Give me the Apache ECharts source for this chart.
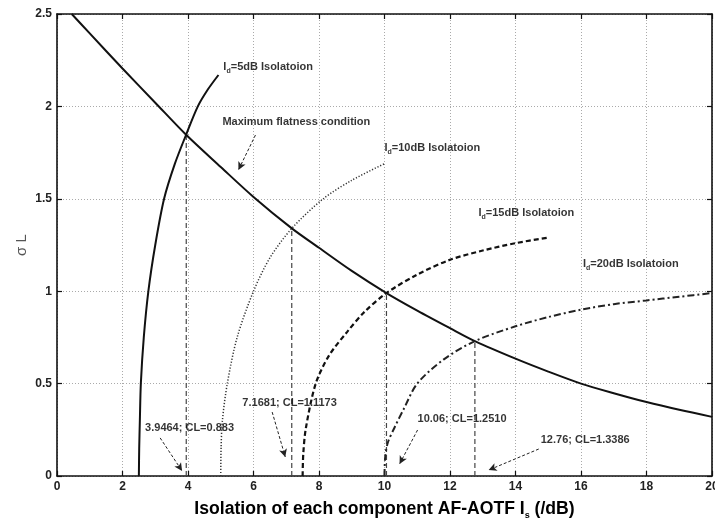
<!DOCTYPE html>
<html>
<head>
<meta charset="utf-8">
<script src="https://cdn.jsdelivr.net/npm/echarts@6/dist/echarts.min.js"></script>
<style>
  html, body { margin: 0; padding: 0; background: #fff; overflow: hidden; }
  #chart { width: 715px; height: 521px; }
</style>
</head>
<body>
<div id="chart"></div>
<script>
// ---- data ----
const xTickLabels = ['0','2','4','6','8','10','12','14','16','18','20'];
const yTickLabels = ['0','0.5','1','1.5','2','2.5'];

const maxFlatX = [0.45, 1, 2, 3, 3.95, 5, 6, 7.17, 8, 9, 10.06, 11, 12, 12.76, 14, 15, 16, 17, 18, 19, 20];
const maxFlatY = [2.5, 2.395, 2.205, 2.02, 1.845, 1.672, 1.51, 1.34, 1.235, 1.11, 0.99, 0.895, 0.8, 0.73, 0.635, 0.565, 0.5, 0.448, 0.4, 0.358, 0.32];

const iso5X = [2.5, 2.51, 2.53, 2.56, 2.65, 2.79, 3.0, 3.27, 3.6, 3.95, 4.3, 4.6, 4.93];
const iso5Y = [0, 0.15, 0.3, 0.5, 0.75, 1.0, 1.25, 1.5, 1.69, 1.85, 2.0, 2.09, 2.17];

const iso10X = [5.0, 5.01, 5.05, 5.2, 5.5, 6.0, 6.5, 7.17, 8.13, 9.0, 10.0];
const iso10Y = [0, 0.15, 0.3, 0.5, 0.75, 1.0, 1.18, 1.34, 1.5, 1.6, 1.69];

const iso15X = [7.5, 7.52, 7.6, 7.9, 8.3, 8.86, 9.4, 10.06, 11, 12, 13, 14, 15];
const iso15Y = [0, 0.12, 0.26, 0.5, 0.65, 0.78, 0.89, 0.99, 1.09, 1.17, 1.22, 1.26, 1.29];

const iso20X = [10, 10.02, 10.1, 10.3, 10.58, 11.0, 11.8, 12.76, 14, 15, 16, 17, 18, 19, 20];
const iso20Y = [0, 0.1, 0.18, 0.26, 0.36, 0.5, 0.63, 0.73, 0.81, 0.86, 0.9, 0.93, 0.95, 0.97, 0.99];

// intersection markers (vertical dashed drop lines)
const crossX = [3.9464, 7.1681, 10.06, 12.76];
const crossY = [1.845, 1.34, 0.99, 0.73];

// text annotations (anchor in data units: left edge, vertical middle)
const noteText = [
  'I{s|d}=5dB Isolatoion',
  'Maximum flatness condition',
  'I{s|d}=10dB Isolatoion',
  'I{s|d}=15dB Isolatoion',
  'I{s|d}=20dB Isolatoion',
  '3.9464; CL=0.883',
  '7.1681; CL=1.1173',
  '10.06; CL=1.2510',
  '12.76; CL=1.3386'
];
const noteX = [5.08, 5.05, 10.0, 12.87, 16.06, 2.69, 5.66, 11.01, 14.77];
const noteY = [2.213, 1.916, 1.775, 1.423, 1.147, 0.26, 0.395, 0.308, 0.195];

// arrows: from -> to
const arrowFromX = [6.06, 3.15, 6.57, 11.01, 14.71];
const arrowFromY = [1.845, 0.206, 0.346, 0.249, 0.146];
const arrowToX = [5.54, 3.82, 6.97, 10.46, 13.18];
const arrowToY = [1.656, 0.027, 0.103, 0.065, 0.032];

// ---- build ----
const zip = (xs, ys) => xs.map((x, i) => [x, ys[i]]);
const FONT = "'Liberation Sans', Arial, sans-serif";

const chart = echarts.init(document.getElementById('chart'), null, { renderer: 'canvas' });

function curve(name, xs, ys, type, width, color) {
  return {
    name, type: 'line', xAxisIndex: 0, yAxisIndex: 0,
    data: zip(xs, ys), showSymbol: false, symbol: 'none',
    smooth: 0.3,
    lineStyle: { color, width, type }, z: 5, silent: true
  };
}

const series = [
  curve('Maximum flatness', maxFlatX, maxFlatY, 'solid', 2, '#111'),
  curve('Id=5dB', iso5X, iso5Y, 'solid', 2, '#111'),
  curve('Id=10dB', iso10X, iso10Y, [1.2, 1.8], 1.5, '#333'),
  curve('Id=15dB', iso15X, iso15Y, [5, 3], 2.2, '#111'),
  curve('Id=20dB', iso20X, iso20Y, [7, 3, 2, 3], 2, '#222')
];

crossX.forEach((x, i) => {
  series.push({
    type: 'line', silent: true, data: [[x, 0], [x, crossY[i]]],
    showSymbol: false, symbol: 'none',
    lineStyle: { color: '#444', width: 1.2, type: [5, 3] }, z: 4
  });
});

series.push({
  type: 'scatter', silent: true, symbolSize: 0, z: 10,
  data: noteX.map((x, i) => ({ value: [x, noteY[i]], name: noteText[i] })),
  label: {
    show: true, position: 'right', distance: 0,
    formatter: p => p.name,
    fontFamily: FONT, fontSize: 11, fontWeight: 'bold', color: '#000', lineHeight: 15,
    rich: {
      s: { fontFamily: FONT, fontSize: 7, fontWeight: 'bold', color: '#000', verticalAlign: 'bottom', lineHeight: 6 }
    }
  }
});

series.push({
  type: 'line', silent: true, data: [], z: 9,
  markLine: {
    silent: true, animation: false,
    symbol: ['none', 'arrow'], symbolSize: [6, 8],
    label: { show: false },
    lineStyle: { color: '#222', width: 1, type: [3, 2] },
    data: arrowFromX.map((x, i) => [
      { coord: [x, arrowFromY[i]] },
      { coord: [arrowToX[i], arrowToY[i]] }
    ])
  }
});

const tick = { show: true, inside: true, length: 5, lineStyle: { color: '#111', width: 1.2 } };
const frame = { show: true, onZero: false, lineStyle: { color: '#111', width: 1.6 } };

const option = {
  animation: false,
  backgroundColor: '#fff',
  grid: { left: 57, right: 3, top: 14, bottom: 45, show: false, containLabel: false, outerBoundsMode: 'none' },
  xAxis: [
    {
      type: 'value', min: 0, max: 20, interval: 2, position: 'bottom',
      name: 'Isolation of each component AF-AOTF I{s|s} (/dB)',
      nameLocation: 'middle', nameGap: 21,
      nameTextStyle: {
        fontFamily: FONT, fontSize: 17.6, fontWeight: 'bold', color: '#000', lineHeight: 22,
        rich: { s: { fontFamily: FONT, fontSize: 9, fontWeight: 'bold', color: '#000', verticalAlign: 'bottom', lineHeight: 7 } }
      },
      axisLine: frame, axisTick: tick,
      axisLabel: {
        formatter: (v) => xTickLabels[Math.round(v / 2)] ?? '',
        fontFamily: FONT, fontSize: 12, fontWeight: 'bold', color: '#222', margin: 5
      },
      splitLine: { show: true, lineStyle: { color: '#aaa', width: 1, type: [1, 2] } }
    },
    {
      type: 'value', min: 0, max: 20, interval: 2, position: 'top',
      axisLine: frame, axisTick: tick,
      axisLabel: { show: false }, splitLine: { show: false }
    }
  ],
  yAxis: [
    {
      type: 'value', min: 0, max: 2.5, interval: 0.5, position: 'left',
      name: 'σ L', nameLocation: 'middle', nameGap: 28, nameRotate: 90, nameMoveOverlap: false,
      nameTextStyle: { fontFamily: FONT, fontSize: 15, color: '#555' },
      axisLine: frame, axisTick: tick,
      axisLabel: {
        formatter: (v) => yTickLabels[Math.round(v / 0.5)] ?? '',
        fontFamily: FONT, fontSize: 12, fontWeight: 'bold', color: '#222', margin: 5
      },
      splitLine: { show: true, lineStyle: { color: '#aaa', width: 1, type: [1, 2] } }
    },
    {
      type: 'value', min: 0, max: 2.5, interval: 0.5, position: 'right',
      axisLine: frame, axisTick: tick,
      axisLabel: { show: false }, splitLine: { show: false }
    }
  ],
  series
};

chart.setOption(option);
</script>
</body>
</html>
